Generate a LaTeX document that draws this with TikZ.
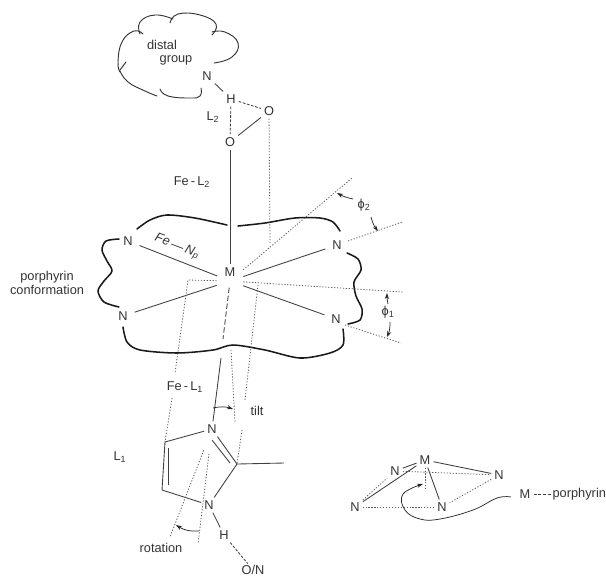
\documentclass[tikz,border=0pt]{standalone}
\usepackage{fontspec}
\setmainfont{Liberation Sans}
\usetikzlibrary{arrows.meta,positioning,calc}

\begin{document}
\begin{tikzpicture}[
  x=0.75pt, y=-0.75pt,
  >={Stealth[length=1.6mm,width=1.1mm]},
  lbl/.style={font=\fontsize{9.6}{11}\selectfont, text=black!80, inner sep=1pt, align=center},
  atom/.style={lbl, inner sep=2.2pt},
  bond/.style={draw=black!75, line width=0.65pt},
  hbond/.style={bond, dash pattern=on 2pt off 1.2pt},
  dot/.style={draw=black!65, line width=0.6pt, dash pattern=on 0.9pt off 1.3pt},
  ring/.style={draw=black!90, line width=1.15pt, line cap=round},
  cloud/.style={draw=black!80, line width=0.7pt, line cap=round},
  angle/.style={->, draw=black!85, line width=0.55pt},
]
\useasboundingbox (0,0) rectangle (606,576);

% ---- distal group ----------------------------------------------------------
\draw[cloud] plot[smooth,tension=0.8] coordinates {(214,63) (232,57) (238,43) (225,32) (212,32)};
\draw[cloud] plot[smooth,tension=0.8] coordinates {(212,35) (216,24) (200,15) (178,14) (170,23)};
\draw[cloud] plot[smooth,tension=0.8] coordinates {(173,19) (155,15) (140,22) (140,34)};
\draw[cloud] plot[smooth,tension=0.8] coordinates {(143,34) (134,31) (122,42) (118,62) (120,72)};
\draw[cloud] (120,70) -- (126,62);
\draw[cloud] plot[smooth,tension=0.8] coordinates {(120,71) (128,82) (145,91) (157,96)};
\draw[cloud] plot[smooth,tension=0.8] coordinates {(160,89) (168,96) (190,98) (200,96) (201,88)};

\node[lbl] (distal) at (162,45) {distal};
\node[lbl] (group)  at (176,60) {group};
\node[atom] (Nd)  at (207,76)  {N};
\node[atom] (Hd)  at (231,99)  {H};
\node[atom] (Oa)  at (269,111) {O};
\node[atom] (Ob)  at (230,142) {O};
\node[lbl] (Ltwo)  at (213,117) {L\textsubscript{2}};
\node[lbl] (FeLtwo) at (192,182) {Fe\,-\,L\textsubscript{2}};

\draw[bond]  (Nd) -- (Hd);
\draw[hbond] (Hd) -- (Oa);
\draw[hbond] (Hd) -- (Ob);
\draw[bond]  (Oa) -- (Ob);

% ---- porphyrin -------------------------------------------------------------
\coordinate (core) at (230,281);
\node[atom] (M)   at (230,272) {M};
\node[atom] (Nul) at (128,241) {N};
\node[atom] (Nll) at (123,316) {N};
\node[atom] (Nur) at (337,245) {N};
\node[atom] (Nlr) at (336,319) {N};

\draw[bond] (Ob) -- (M);
\foreach \a in {Nul,Nll,Nur,Nlr}
  \draw[bond, shorten <=3pt, shorten >=10.5pt] (\a) -- (core);

\draw[ring] plot[smooth] coordinates {(137,229) (150,220) (167,215) (195,218) (227,225)};
\draw[ring] plot[smooth] coordinates {(238,226) (265,223) (295,218) (320,218) (333,222) (340,231)};
\draw[ring] plot[smooth] coordinates {(119,239) (106,241) (102,250) (107,261) (112,271) (104,281) (98,291) (104,302) (119,307)};
\draw[ring] plot[smooth] coordinates {(347,253) (358,259) (361,270) (354,282) (356,296) (362,309) (360,320) (348,324)};
\draw[ring] plot[smooth] coordinates {(123,327) (127,342) (140,350) (177,353) (213,350) (233,345) (265,350) (300,358) (330,353) (343,345) (343,329)};

\node[lbl] (conf) at (47,283) {porphyrin\\[-1pt]conformation};
\node[lbl, rotate=-21, font=\fontsize{9.6}{11}\selectfont\itshape] (FeNp) at (177,247) {Fe\,---\,N\textsubscript{p}};

% ---- angles phi ------------------------------------------------------------
\foreach \n/\x/\y in {oaDown/270/243, phiTop/352/178, phiRa/348/241, phiRb/402/222,
                      phiC/403/292, phiDa/345/325, phiDb/401/343,
                      elbowL/188/280, legLa/175/373, legLb/172/398, legLc/165/442,
                      midA/231/350, midB/235/422,
                      rightA/258/285, rightB/245/400, rightC/242/430, rightD/237/464,
                      arcTa/337/193, arcTb/353/199, arcTc/371/217, arcTd/378/231,
                      arcUa/387/293, arcUb/388/304, arcUc/390/322, arcUd/387/337}
  \coordinate (\n) at (\x,\y);

\draw[dot] (Oa) -- (oaDown);
\draw[dot, shorten <=13pt] (core) -- (phiTop);
\draw[dot, shorten <=10pt] (core) -- (phiC);
\draw[dot] (phiRa) -- (phiRb);
\draw[dot] (phiDa) -- (phiDb);

\node[lbl] (phiTwo) at (364,205) {ϕ\textsubscript{2}};
\node[lbl] (phiOne) at (388,312) {ϕ\textsubscript{1}};
\draw[angle] (arcTb) to[bend left=8] (arcTa);
\draw[angle] (arcTc) to[bend right=12] (arcTd);
\draw[angle] (arcUb) to[bend left=6] (arcUa);
\draw[angle] (arcUc) to[bend left=12] (arcUd);

% ---- axis and proximal ligand ----------------------------------------------
\coordinate (dashEnd) at (223,339);
\coordinate (stemTop) at (221,358);
\draw[hbond, shorten <=5pt, dash pattern=on 4pt off 2pt] (core) -- (dashEnd);

\draw[dot, shorten <=10pt] (core) -- (elbowL) -- (legLa);
\draw[dot] (legLb) -- (legLc);
\draw[dot] (midA) -- (midB);
\draw[dot] (rightA) -- (rightB);
\draw[dot] (rightC) -- (rightD);

\node[atom] (Nup) at (212,429) {N};
\node[atom] (Ndn) at (209,505) {N};
\node[atom] (Hp)  at (224,535) {H};
\node[lbl]  (ON)  at (253,570) {O/N};
\coordinate (Cl)  at (165,442);
\coordinate (Cb)  at (162,490);
\coordinate (Cr)  at (237,464);
\coordinate (Me)  at (284,463);
\coordinate (Cli) at (168,448);
\coordinate (Cbi) at (168,485);
\coordinate (Nuo) at (212,440);
\coordinate (Cro) at (230,463);

\draw[bond] (stemTop) -- (Nup);
\draw[bond] (Nup) -- (Cl) -- (Cb) -- (Ndn) -- (Cr) -- (Me);
\draw[bond] (Nup) -- (Cr);
\draw[bond] (Cli) -- (Cbi);
\draw[bond] (Nuo) -- (Cro);
\draw[bond] (Ndn) -- (Hp);
\draw[hbond] (Hp) -- (ON);

\coordinate (tiltA) at (213,408);
\coordinate (tiltB) at (233,409);
\draw[angle] (tiltA) to[bend left=15] (tiltB);

\coordinate (rotA) at (170,537);
\coordinate (rotB) at (198,544);
\coordinate (rotC) at (199,531);
\coordinate (rotD) at (176,525);
\draw[dot, shorten <=11pt] (Nup) -- (rotA);
\draw[dot, shorten <=13pt] (Nup) -- (rotB);
\draw[angle] (rotC) to[bend left=18] (rotD);

\node[lbl] (FeLone) at (185,387) {Fe\,-\,L\textsubscript{1}};
\node[lbl] (tilt)   at (257,411) {tilt};
\node[lbl] (Lone)   at (120,457) {L\textsubscript{1}};
\node[lbl] (rot)    at (161,548) {rotation};

% ---- small sketch of the metal out of plane --------------------------------
\node[atom] (Ms)  at (425,460) {M};
\node[atom] (Na)  at (395,471) {N};
\node[atom] (Nb)  at (499,475) {N};
\node[atom] (Nc)  at (355,507) {N};
\node[atom] (Ne)  at (442,507) {N};
\node[atom] (Mk)  at (525,494) {M};
\node[lbl, anchor=west] (por) at (551,494) {porphyrin};
\coordinate (Mfoot) at (425,490);

\foreach \a in {Na,Nb,Nc,Ne}
  \draw[bond] (Ms) -- (\a);
\foreach \a/\b in {Na/Nb, Nb/Ne, Ne/Nc, Nc/Na, Ms/Mfoot}
  \draw[dot] (\a) -- (\b);
\draw[bond, dash pattern=on 2.4pt off 1.1pt] (Mk) -- (por);
\draw[angle] plot[smooth,tension=0.7] coordinates {(511,497) (497,498) (473,510) (440,519) (420,519) (405,510) (403,494) (423,484)};
\end{tikzpicture}
\end{document}
